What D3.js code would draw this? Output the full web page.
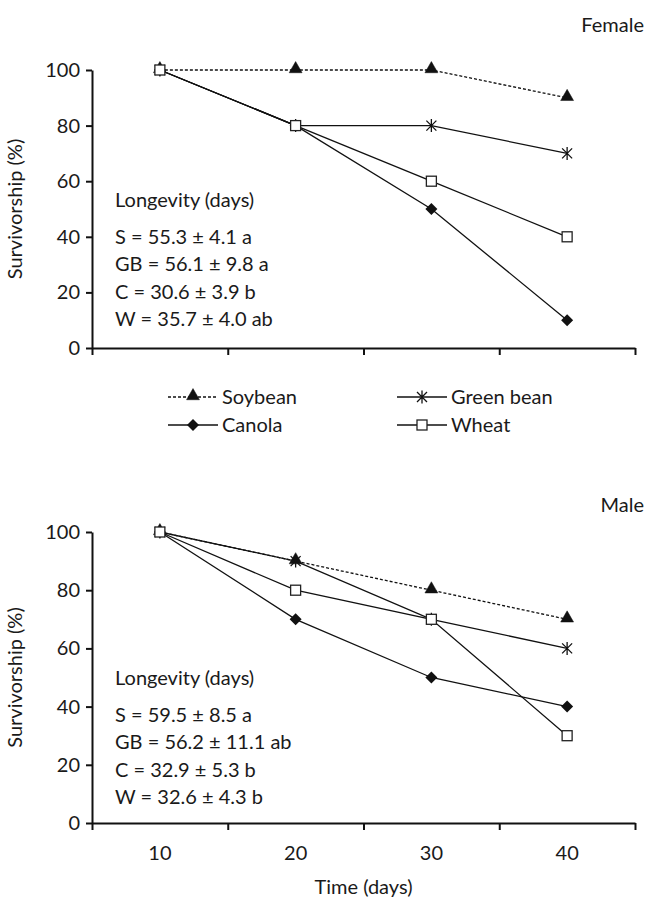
<!DOCTYPE html>
<html>
  <head>
    <title>Survivorship</title>
    <script src="https://cdn.jsdelivr.net/npm/d3@7"></script>
    <style>
      body { margin: 0; background: #fff; }
      text { font-family: Lato, "Open Sans", sans-serif; fill: #1a1a1a; }
    </style>
  </head>
  <body>
    <svg width="646" height="899" id="mainsvg"></svg>
    <script>
      // data
      const days = [10, 20, 30, 40];
      const seriesNames = ['Soybean', 'Green bean', 'Canola', 'Wheat'];
      const femaleSoybean = [100, 100, 100, 90];
      const femaleGreenBean = [100, 80, 80, 70];
      const femaleCanola = [100, 80, 50, 10];
      const femaleWheat = [100, 80, 60, 40];
      const maleSoybean = [100, 90, 80, 70];
      const maleGreenBean = [100, 90, 70, 60];
      const maleCanola = [100, 70, 50, 40];
      const maleWheat = [100, 80, 70, 30];
      const yTicks = [0, 20, 40, 60, 80, 100];
      const femaleLongevity = ['S = 55.3 \u00b1 4.1 a', 'GB = 56.1 \u00b1 9.8 a', 'C = 30.6 \u00b1 3.9 b', 'W = 35.7 \u00b1 4.0 ab'];
      const maleLongevity = ['S = 59.5 \u00b1 8.5 a', 'GB = 56.2 \u00b1 11.1 ab', 'C = 32.9 \u00b1 5.3 b', 'W = 32.6 \u00b1 4.3 b'];

      const svg = d3.select('#mainsvg');
      const left = 92, right = 635;
      const fontSize = 20;

      const xScale = d3.scaleBand().domain(days).range([left, right]);
      const xEdge = d3.scaleLinear().domain([0, days.length]).range([left, right]);

      const styles = {
        'Soybean': {marker: 'triangle', dash: '3,2'},
        'Green bean': {marker: 'asterisk', dash: null},
        'Canola': {marker: 'diamond', dash: null},
        'Wheat': {marker: 'square', dash: null}
      };

      const drawMarker = function(sel, type){
        if(type === 'triangle'){
          sel.append('path').attr('d', d3.symbol(d3.symbolTriangle, 72)())
            .attr('transform', 'translate(0,-1)')
            .attr('fill', '#111').attr('stroke', '#111').attr('stroke-width', 0.5);
        } else if(type === 'diamond'){
          sel.append('path').attr('d', d3.symbol(d3.symbolSquare, 72)())
            .attr('transform', 'rotate(45)')
            .attr('fill', '#111');
        } else if(type === 'square'){
          sel.append('rect').attr('x', -5).attr('y', -5).attr('width', 10).attr('height', 10)
            .attr('fill', '#fff').attr('stroke', '#222').attr('stroke-width', 1.3);
        } else {
          const p = d3.path(), r = 6.5, q = 5;
          p.moveTo(0, -r); p.lineTo(0, r);
          p.moveTo(-q, -q); p.lineTo(q, q);
          p.moveTo(-q, q); p.lineTo(q, -q);
          sel.append('path').attr('d', p.toString())
            .attr('fill', 'none').attr('stroke', '#111').attr('stroke-width', 1.3);
        }
      };

      const render = function(panel){
        const yScale = d3.scaleLinear().domain([0, 100]).range([panel.bottom, panel.top]);
        const g = svg.append('g');

        // y axis
        const yAxis = g.append('g').attr('transform', `translate(${left},0)`)
          .call(d3.axisLeft(yScale).tickValues(yTicks).tickSize(6).tickSizeOuter(0).tickPadding(6));
        // x axis, ticks sit on the band edges
        g.append('g').attr('transform', `translate(0,${panel.bottom})`)
          .call(d3.axisBottom(xEdge).tickValues(d3.range(days.length + 1)).tickSize(7).tickSizeOuter(0).tickFormat(''));
        g.selectAll('.domain, .tick line').attr('stroke', '#111').attr('stroke-width', 2);
        yAxis.selectAll('text').attr('font-size', fontSize).attr('font-family', 'Lato');

        if(panel.showX){
          const lab = g.append('g').attr('transform', `translate(0,${panel.bottom})`)
            .call(d3.axisBottom(xScale).tickSize(0).tickPadding(23));
          lab.select('.domain').remove();
          lab.selectAll('text').attr('font-size', fontSize).attr('font-family', 'Lato');
          g.append('text').attr('x', (left + right) / 2).attr('y', 894)
            .attr('text-anchor', 'middle').attr('font-size', fontSize).text('Time (days)');
        }

        g.append('text')
          .attr('transform', `translate(22,${(panel.top + panel.bottom) / 2}) rotate(-90)`)
          .attr('text-anchor', 'middle').attr('font-size', fontSize).text('Survivorship (%)');

        g.append('text').attr('x', 644).attr('y', panel.titleY)
          .attr('text-anchor', 'end').attr('font-size', fontSize).text(panel.title);

        // longevity note
        const note = g.append('g').attr('transform', `translate(115,${panel.noteY})`);
        note.append('text').attr('y', 0).attr('font-size', fontSize).text('Longevity (days)');
        note.selectAll('.stat').data(panel.longevity).join('text').attr('class', 'stat')
          .attr('y', (d, i) => 37 + i * 27.3)
          .attr('font-size', fontSize).text(d => d);

        // series
        const line = d3.line().x((d, i) => xScale(days[i]) + xScale.bandwidth() / 2).y(d => yScale(d));
        panel.series.forEach((vals, k) => {
          const st = styles[seriesNames[k]];
          g.append('path').attr('d', line(vals)).attr('fill', 'none')
            .attr('stroke', '#111').attr('stroke-width', 1.3)
            .attr('stroke-dasharray', st.dash);
        });
        panel.series.forEach((vals, k) => {
          const st = styles[seriesNames[k]];
          vals.forEach((v, i) => {
            const m = g.append('g')
              .attr('transform', `translate(${xScale(days[i]) + xScale.bandwidth() / 2},${yScale(v)})`);
            drawMarker(m, st.marker);
          });
        });
      };

      render({top: 70, bottom: 348, title: 'Female', titleY: 32, noteY: 207, showX: false,
        longevity: femaleLongevity,
        series: [femaleSoybean, femaleGreenBean, femaleCanola, femaleWheat]});
      render({top: 532, bottom: 823, title: 'Male', titleY: 512, noteY: 685, showX: true,
        longevity: maleLongevity,
        series: [maleSoybean, maleGreenBean, maleCanola, maleWheat]});

      // legend
      const legendPos = [[168, 397], [397, 397], [168, 425], [397, 425]];
      seriesNames.forEach((name, k) => {
        const st = styles[name];
        const lg = svg.append('g').attr('transform', `translate(${legendPos[k][0]},${legendPos[k][1]})`);
        lg.append('line').attr('x1', 0).attr('x2', 50).attr('stroke', '#111').attr('stroke-width', 1.3)
          .attr('stroke-dasharray', st.dash);
        drawMarker(lg.append('g').attr('transform', 'translate(25,0)'), st.marker);
        lg.append('text').attr('x', 54).attr('y', 7).attr('font-size', fontSize).text(name);
      });
    </script>
  </body>
</html>
